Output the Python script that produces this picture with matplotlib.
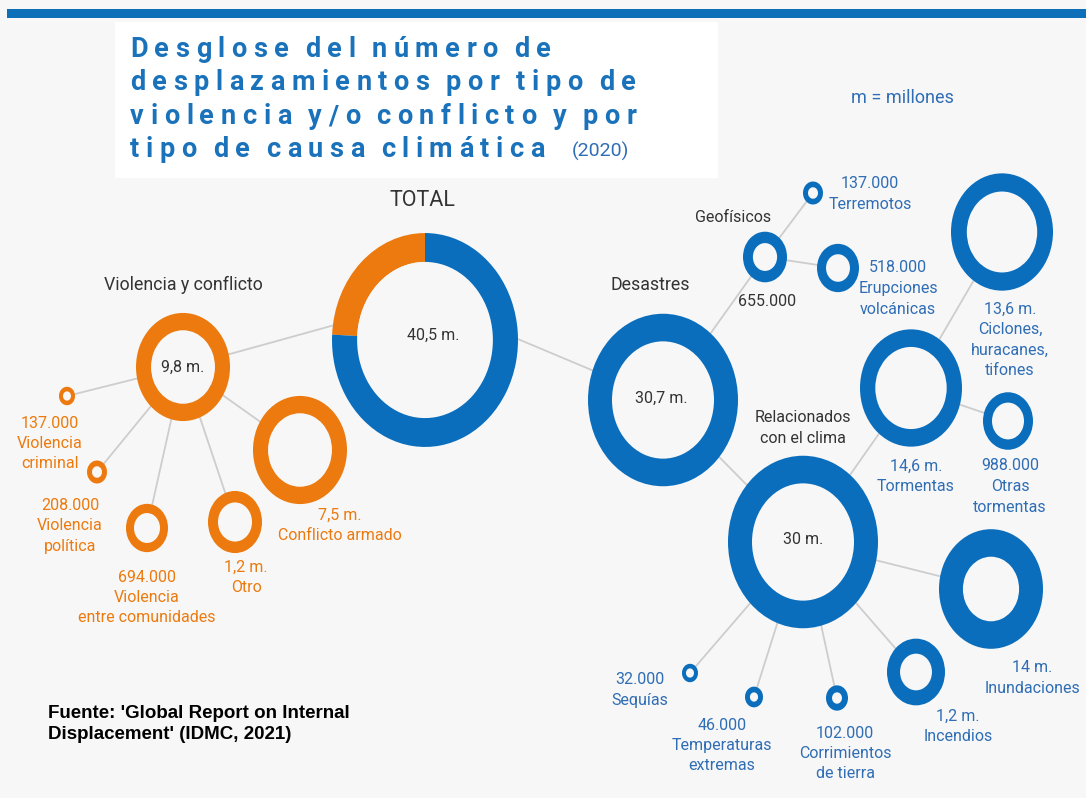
import matplotlib
matplotlib.use('Agg')
import matplotlib.pyplot as plt
from matplotlib.patches import Wedge, Rectangle
from matplotlib.transforms import Affine2D

# --- data (millions of displacements, 2020) ---
nodes = ['total', 'violencia', 'criminal', 'politica', 'comunidades', 'otro', 'armado',
         'desastres', 'geofisicos', 'terremotos', 'erupciones', 'clima', 'tormentas',
         'ciclones', 'otras', 'inundaciones', 'incendios', 'corrimientos', 'temperaturas', 'sequias']
values_m = [40.5, 9.8, 0.137, 0.208, 0.694, 1.2, 7.5,
            30.7, 0.655, 0.137, 0.518, 30.0, 14.6,
            13.6, 0.988, 14.0, 1.2, 0.102, 0.046, 0.032]
names = ['TOTAL', 'Violencia y conflicto', 'Violencia\ncriminal', 'Violencia\npolítica',
         'Violencia\nentre comunidades', 'Otro', 'Conflicto armado',
         'Desastres', 'Geofísicos', 'Terremotos', 'Erupciones\nvolcánicas',
         'Relacionados\ncon el clima', 'Tormentas', 'Ciclones,\nhuracanes,\ntifones',
         'Otras\ntormentas', 'Inundaciones', 'Incendios', 'Corrimientos\nde tierra',
         'Temperaturas\nextremas', 'Sequías']
parents = [None, 'total', 'violencia', 'violencia', 'violencia', 'violencia', 'violencia',
           'total', 'desastres', 'geofisicos', 'geofisicos', 'desastres', 'clima',
           'tormentas', 'tormentas', 'clima', 'clima', 'clima', 'clima', 'clima']

title_lines = ['Desglose del número de', 'desplazamientos por tipo de',
               'violencia y/o conflicto y por', 'tipo de causa climática']
source = "Fuente: 'Global Report on Internal\nDisplacement' (IDMC, 2021)"

# --- layout (pixels) ---
cx = [425, 183, 67, 97, 147, 235, 300, 663, 765, 813, 838, 803, 911, 1002, 1008, 991, 916, 837, 754, 690]
cy = [340, 367, 396, 472, 528, 522, 450, 400, 257, 193, 268, 542, 388, 232, 421, 589, 672, 698, 697, 673]
rx = [93, 47, 8, 10, 21, 27, 47, 75, 22, 10, 21, 75, 51, 51, 25, 52, 29, 11, 9, 8]
hole = [0.73, 0.68, 0.5, 0.5, 0.62, 0.63, 0.68, 0.68, 0.55, 0.5, 0.57, 0.68, 0.7, 0.69,
        0.64, 0.54, 0.55, 0.45, 0.45, 0.5]
val_xy = [(433, 335), (183, 367), (50, 423), (70, 505), (147, 577), (246, 567), (340, 515),
          (661, 398), (767, 302), (870, 184), (898, 268), (803, 540), (916, 466),
          (1010, 309), (1010, 466), (1032, 668), (958, 716), (845, 733), (722, 725), (640, 680)]
name_xy = {'total': (422, 200), 'violencia': (183, 285), 'desastres': (650, 285),
           'geofisicos': (733, 218), 'clima': (803, 418)}
name_size = {'total': 15.5, 'violencia': 12.8, 'desastres': 12.8}
anchor_dy = {'total': -40}
SY = 1.15
LINE = 20.5

BG = '#f7f7f7'
ORANGE = '#ec7a0e'
BLUE = '#0a6ebd'
TXT_BLUE = '#2f6db5'
DARK = '#333333'


def fmt(v):
    if v >= 1:
        return f'{v:g}'.replace('.', ',') + ' m.'
    return f'{int(round(v * 1e6)):,}'.replace(',', '.')


def group(n):
    while n is not None:
        if n == 'violencia':
            return ORANGE
        n = parents[nodes.index(n)]
    return BLUE


W, H = 1086, 798
fig = plt.figure(figsize=(W / 100, H / 100), dpi=100, facecolor=BG)
ax = fig.add_axes([0, 0, 1, 1])
ax.set_xlim(0, W)
ax.set_ylim(H, 0)
ax.axis('off')
ax.set_facecolor(BG)

ax.add_patch(Rectangle((115, 22), 603, 156, facecolor='white', edgecolor='none', zorder=0))
ax.add_patch(Rectangle((7, 9), W, 9, facecolor='#0d6fb8', edgecolor='none', zorder=0))

# connectors
for i, n in enumerate(nodes):
    p = parents[i]
    if p is None:
        continue
    j = nodes.index(p)
    ax.plot([cx[j], cx[i]], [cy[j] + anchor_dy.get(p, 0), cy[i]],
            color='#cdcdcd', lw=1.3, zorder=1, solid_capstyle='round')


def ring(i, color, t1=0, t2=360):
    tr = Affine2D().scale(1, SY).translate(cx[i], cy[i]) + ax.transData
    ax.add_patch(Wedge((0, 0), rx[i] * hole[i], 0, 360, facecolor=BG, edgecolor='none',
                       transform=tr, zorder=2))
    ax.add_patch(Wedge((0, 0), rx[i], t1, t2, width=rx[i] * (1 - hole[i]),
                       facecolor=color, edgecolor='none', transform=tr, zorder=2))


for i, n in enumerate(nodes):
    if n == 'total':
        span = 360 * values_m[1] / values_m[0]
        ring(i, ORANGE, 270 - span, 270)
        ring(i, BLUE, 270, 360 + 270 - span)
    else:
        ring(i, group(n))

FONT = 'Roboto'
for i, n in enumerate(nodes):
    x, y = val_xy[i]
    if n in name_xy:
        ax.text(x, y, fmt(values_m[i]), ha='center', va='center', fontsize=11.5,
                family=FONT, color=DARK, zorder=3)
        nx, ny = name_xy[n]
        size = name_size.get(n, 11.5)
        for k, line in enumerate(names[i].split('\n')):
            ax.text(nx, ny + k * LINE, line, ha='center', va='center', fontsize=size,
                    family=FONT, color=DARK, zorder=3)
    else:
        c = ORANGE if group(n) == ORANGE else TXT_BLUE
        for k, line in enumerate([fmt(values_m[i])] + names[i].split('\n')):
            ax.text(x, y + k * LINE, line, ha='center', va='center', fontsize=11.5,
                    family=FONT, color=c, zorder=3)

# title with letter spacing
renderer = fig.canvas.get_renderer()
baselines = [57, 90, 124, 157]
for line, yb in zip(title_lines, baselines):
    x = 130
    for ch in line:
        if ch == ' ':
            x += 10
            continue
        t = ax.text(x, yb, ch, fontsize=19.5, fontweight='bold', family=FONT,
                    color='#1a72bb', va='baseline', ha='left', zorder=3)
        x += t.get_window_extent(renderer).width + 6.5
ax.text(572, 157, '(2020)', fontsize=14, family=FONT, color=TXT_BLUE, va='baseline', ha='left')

ax.text(902, 98, 'm = millones', fontsize=13, family=FONT, color=TXT_BLUE, ha='center', va='center')

ax.text(48, 724, source, fontsize=13.5, fontweight='bold', family='Liberation Sans',
        color='black', ha='left', va='center', linespacing=1.3)

fig.savefig('out.png', dpi=100, facecolor=BG)
